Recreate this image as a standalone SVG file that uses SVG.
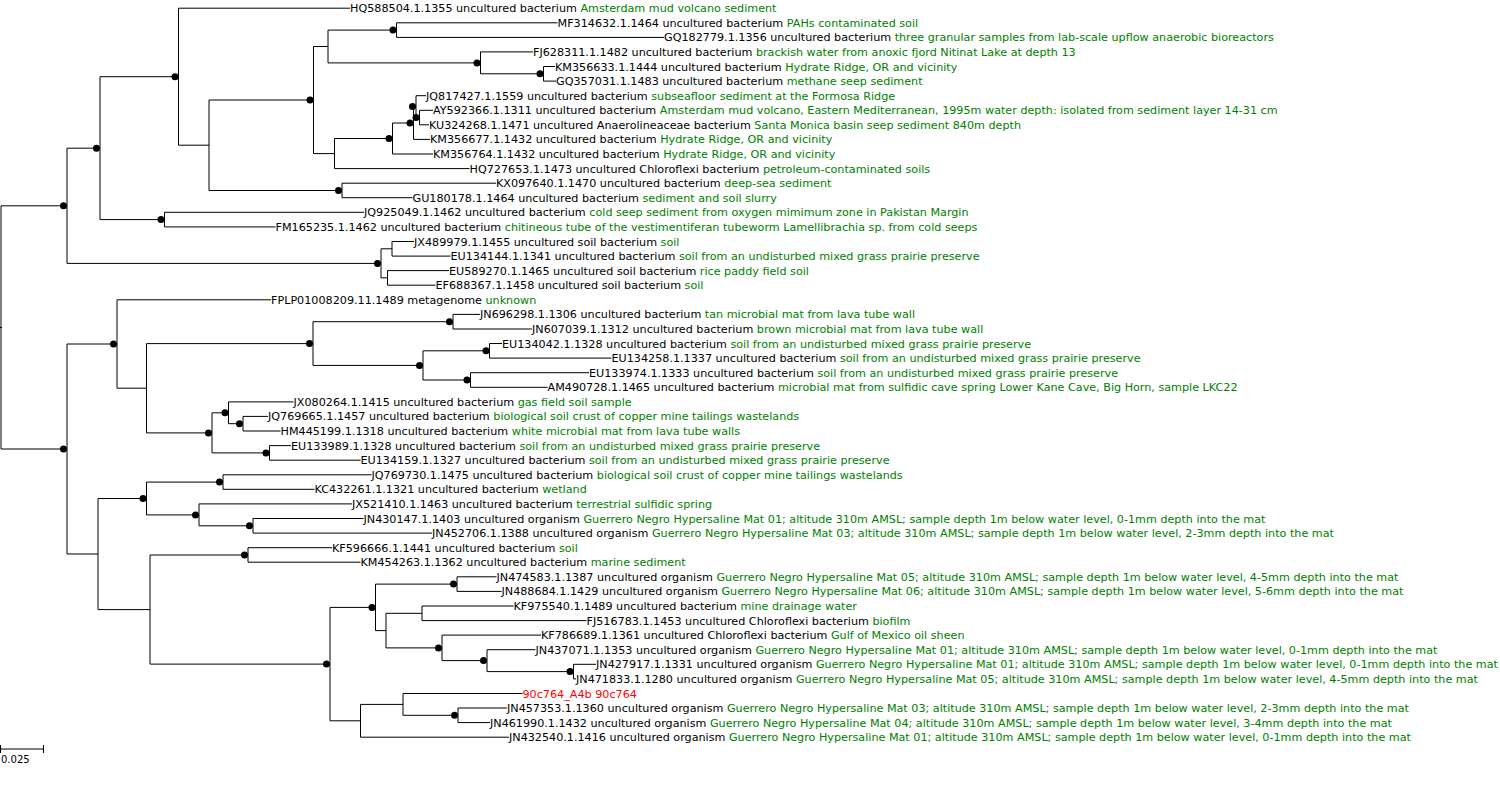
<svg xmlns="http://www.w3.org/2000/svg" width="1500" height="788" viewBox="0 0 1500 788">
<style>
.bg{fill:#fff}
.c{fill:none;stroke:#000;stroke-width:1}
.d{fill:#000}
text{font-family:"DejaVu Sans","Liberation Sans",sans-serif;font-size:11.18px;fill:#000}
.g{fill:#008000}
.r{fill:#ff0000}
.s{font-size:10px}
</style>
<rect class="bg" x="0" y="0" width="1500" height="788"/>
<g id="connectors">
<path class="c" d="M1 205.8V449M1 205.8H67M1 449H67M0 327.4H2
M67 148.2V263.4M67 148.2H100M67 263.4H381
M100 76.7V219.6M100 76.7H178.5M100 219.6H164.5
M178.5 8.2V145.2M178.5 8.2H350M178.5 145.2H209
M209 100V190.5M209 100H313.5M209 190.5H342
M313.5 46.5V153.6M313.5 46.5H328M313.5 153.6H334.5
M328 30.1V62.9M328 30.1H396.5M328 62.9H480.5
M396.5 22.8V37.4M396.5 22.8H557.5M396.5 37.4H664
M480.5 51.9V73.8M480.5 51.9H533M480.5 73.8H543.5
M543.5 66.5V81.1M543.5 66.5H555M543.5 81.1H556
M334.5 138.5V168.6M334.5 138.5H392.5M334.5 168.6H469.5
M392.5 123V154M392.5 123H413.5M392.5 154H433
M413.5 106.6V139.4M413.5 106.6H416M413.5 139.4H430
M416 95.7V117.6M416 95.7H426M416 117.6H419.5
M419.5 110.3V124.8M419.5 110.3H433M419.5 124.8H429
M342 183.2V197.7M342 183.2H496M342 197.7H412.5
M164.5 212.3V226.9M164.5 212.3H364M164.5 226.9H275.5
M381 248.8V277.9M381 248.8H392M381 277.9H387.5
M392 241.5V256.1M392 241.5H414M392 256.1H450.5
M387.5 270.6V285.2M387.5 270.6H449M387.5 285.2H435.5
M67 344V554M67 344H117M67 554H98
M117 299.8V388.2M117 299.8H271M117 388.2H146.5
M146.5 343.6V432.9M146.5 343.6H313M146.5 432.9H212
M313 321.7V365.4M313 321.7H453M313 365.4H423
M453 314.4V329M453 314.4H480M453 329H532
M423 350.8V380M423 350.8H489.5M423 380H470.5
M489.5 343.5V358.1M489.5 343.5H502M489.5 358.1H611.5
M470.5 372.7V387.3M470.5 372.7H589M470.5 387.3H547.5
M212 412.8V452.9M212 412.8H228.5M212 452.9H269.5
M228.5 401.9V423.7M228.5 401.9H293.5M228.5 423.7H243
M243 416.4V431M243 416.4H268M243 431H280.5
M269.5 445.6V460.2M269.5 445.6H291M269.5 460.2H360.5
M98 498.5V609.6M98 498.5H146.5M98 609.6H150
M146.5 482.1V514.9M146.5 482.1H223M146.5 514.9H199
M223 474.8V489.3M223 474.8H371.5M223 489.3H314.5
M199 503.9V525.8M199 503.9H352M199 525.8H253
M253 518.5V533.1M253 518.5H363.5M253 533.1H432
M150 555V664.1M150 555H248M150 664.1H330
M248 547.7V562.2M248 547.7H332M248 562.2H360.5
M330 607.4V720.8M330 607.4H375.5M330 720.8H360.5
M375.5 584.1V630.6M375.5 584.1H457M375.5 630.6H386
M457 576.8V591.4M457 576.8H496.5M457 591.4H501.5
M386 613.3V647.9M386 613.3H422M386 647.9H442
M422 606V620.6M422 606H513.5M422 620.6H586.5
M442 635.1V660.6M442 635.1H541M442 660.6H487
M487 649.7V671.6M487 649.7H535.5M487 671.6H573.5
M573.5 664.3V678.9M573.5 664.3H596M573.5 678.9H576
M360.5 704.4V737.2M360.5 704.4H403M360.5 737.2H509
M403 693.5V715.3M403 693.5H522.5M403 715.3H458
M458 708V722.6M458 708H507M458 722.6H490"/>
</g>
<g id="internal-nodes">
<g id="nA"><circle class="d" cx="63.5" cy="205.8" r="3.5"/></g>
<g id="nO"><circle class="d" cx="96.5" cy="148.2" r="3.5"/></g>
<g id="nB"><circle class="d" cx="175" cy="76.7" r="3.5"/></g>
<g id="nD"><circle class="d" cx="310" cy="100" r="3.5"/></g>
<g id="nG"><circle class="d" cx="393" cy="30.1" r="3.5"/></g>
<g id="nH"><circle class="d" cx="477" cy="62.9" r="3.5"/></g>
<g id="nI"><circle class="d" cx="540" cy="73.8" r="3.5"/></g>
<g id="nK"><circle class="d" cx="389" cy="138.5" r="3.5"/></g>
<g id="nL"><circle class="d" cx="410" cy="123" r="3.5"/></g>
<g id="nNN"><circle class="d" cx="412.5" cy="106.6" r="3.5"/></g>
<g id="nM"><circle class="d" cx="416" cy="117.6" r="3.5"/></g>
<g id="nE"><circle class="d" cx="338.5" cy="190.5" r="3.5"/></g>
<g id="nN"><circle class="d" cx="161" cy="219.6" r="3.5"/></g>
<g id="nP"><circle class="d" cx="377.5" cy="263.4" r="3.5"/></g>
<g id="nR"><circle class="d" cx="63.5" cy="449" r="3.5"/></g>
<g id="nS"><circle class="d" cx="113.5" cy="344" r="3.5"/></g>
<g id="nU"><circle class="d" cx="309.5" cy="343.6" r="3.5"/></g>
<g id="nV"><circle class="d" cx="449.5" cy="321.7" r="3.5"/></g>
<g id="nW"><circle class="d" cx="419.5" cy="365.4" r="3.5"/></g>
<g id="nX"><circle class="d" cx="486" cy="350.8" r="3.5"/></g>
<g id="nY"><circle class="d" cx="467" cy="380" r="3.5"/></g>
<g id="nZ"><circle class="d" cx="208.5" cy="432.9" r="3.5"/></g>
<g id="nAA"><circle class="d" cx="225" cy="412.8" r="3.5"/></g>
<g id="nAB"><circle class="d" cx="239.5" cy="423.7" r="3.5"/></g>
<g id="nAC"><circle class="d" cx="266" cy="452.9" r="3.5"/></g>
<g id="nAE"><circle class="d" cx="143" cy="498.5" r="3.5"/></g>
<g id="nAF"><circle class="d" cx="219.5" cy="482.1" r="3.5"/></g>
<g id="nAG"><circle class="d" cx="195.5" cy="514.9" r="3.5"/></g>
<g id="nAH"><circle class="d" cx="249.5" cy="525.8" r="3.5"/></g>
<g id="nAJ"><circle class="d" cx="244.5" cy="555" r="3.5"/></g>
<g id="nAK"><circle class="d" cx="326.5" cy="664.1" r="3.5"/></g>
<g id="nAL"><circle class="d" cx="372" cy="607.4" r="3.5"/></g>
<g id="nAM"><circle class="d" cx="453.5" cy="584.1" r="3.5"/></g>
<g id="nAP"><circle class="d" cx="438.5" cy="647.9" r="3.5"/></g>
<g id="nAT"><circle class="d" cx="483.5" cy="660.6" r="3.5"/></g>
<g id="nAU"><circle class="d" cx="570" cy="671.6" r="3.5"/></g>
<g id="nAS"><circle class="d" cx="454.5" cy="715.3" r="3.5"/></g>
</g>
<g id="leaves">
<g id="l1"><text x="350" y="12.2">HQ588504.1.1355 uncultured bacterium <tspan class="g">Amsterdam mud volcano sediment</tspan></text></g>
<g id="l2"><text x="557.5" y="26.8">MF314632.1.1464 uncultured bacterium <tspan class="g">PAHs contaminated soil</tspan></text></g>
<g id="l3"><text x="664" y="41.4">GQ182779.1.1356 uncultured bacterium <tspan class="g">three granular samples from lab-scale upflow anaerobic bioreactors</tspan></text></g>
<g id="l4"><text x="533" y="55.9">FJ628311.1.1482 uncultured bacterium <tspan class="g">brackish water from anoxic fjord Nitinat Lake at depth 13</tspan></text></g>
<g id="l5"><text x="555" y="70.5">KM356633.1.1444 uncultured bacterium <tspan class="g">Hydrate Ridge, OR and vicinity</tspan></text></g>
<g id="l6"><text x="556" y="85.1">GQ357031.1.1483 uncultured bacterium <tspan class="g">methane seep sediment</tspan></text></g>
<g id="l7"><text x="426" y="99.7">JQ817427.1.1559 uncultured bacterium <tspan class="g">subseafloor sediment at the Formosa Ridge</tspan></text></g>
<g id="l8"><text x="433" y="114.3">AY592366.1.1311 uncultured bacterium <tspan class="g">Amsterdam mud volcano, Eastern Mediterranean, 1995m water depth: isolated from sediment layer 14-31 cm</tspan></text></g>
<g id="l9"><text x="429" y="128.8">KU324268.1.1471 uncultured Anaerolineaceae bacterium <tspan class="g">Santa Monica basin seep sediment 840m depth</tspan></text></g>
<g id="l10"><text x="430" y="143.4">KM356677.1.1432 uncultured bacterium <tspan class="g">Hydrate Ridge, OR and vicinity</tspan></text></g>
<g id="l11"><text x="433" y="158">KM356764.1.1432 uncultured bacterium <tspan class="g">Hydrate Ridge, OR and vicinity</tspan></text></g>
<g id="l12"><text x="469.5" y="172.6">HQ727653.1.1473 uncultured Chloroflexi bacterium <tspan class="g">petroleum-contaminated soils</tspan></text></g>
<g id="l13"><text x="496" y="187.2">KX097640.1.1470 uncultured bacterium <tspan class="g">deep-sea sediment</tspan></text></g>
<g id="l14"><text x="412.5" y="201.7">GU180178.1.1464 uncultured bacterium <tspan class="g">sediment and soil slurry</tspan></text></g>
<g id="l15"><text x="364" y="216.3">JQ925049.1.1462 uncultured bacterium <tspan class="g">cold seep sediment from oxygen mimimum zone in Pakistan Margin</tspan></text></g>
<g id="l16"><text x="275.5" y="230.9">FM165235.1.1462 uncultured bacterium <tspan class="g">chitineous tube of the vestimentiferan tubeworm Lamellibrachia sp. from cold seeps</tspan></text></g>
<g id="l17"><text x="414" y="245.5">JX489979.1.1455 uncultured soil bacterium <tspan class="g">soil</tspan></text></g>
<g id="l18"><text x="450.5" y="260.1">EU134144.1.1341 uncultured bacterium <tspan class="g">soil from an undisturbed mixed grass prairie preserve</tspan></text></g>
<g id="l19"><text x="449" y="274.6">EU589270.1.1465 uncultured soil bacterium <tspan class="g">rice paddy field soil</tspan></text></g>
<g id="l20"><text x="435.5" y="289.2">EF688367.1.1458 uncultured soil bacterium <tspan class="g">soil</tspan></text></g>
<g id="l21"><text x="271" y="303.8">FPLP01008209.11.1489 metagenome <tspan class="g">unknown</tspan></text></g>
<g id="l22"><text x="480" y="318.4">JN696298.1.1306 uncultured bacterium <tspan class="g">tan microbial mat from lava tube wall</tspan></text></g>
<g id="l23"><text x="532" y="333">JN607039.1.1312 uncultured bacterium <tspan class="g">brown microbial mat from lava tube wall</tspan></text></g>
<g id="l24"><text x="502" y="347.5">EU134042.1.1328 uncultured bacterium <tspan class="g">soil from an undisturbed mixed grass prairie preserve</tspan></text></g>
<g id="l25"><text x="611.5" y="362.1">EU134258.1.1337 uncultured bacterium <tspan class="g">soil from an undisturbed mixed grass prairie preserve</tspan></text></g>
<g id="l26"><text x="589" y="376.7">EU133974.1.1333 uncultured bacterium <tspan class="g">soil from an undisturbed mixed grass prairie preserve</tspan></text></g>
<g id="l27"><text x="547.5" y="391.3">AM490728.1.1465 uncultured bacterium <tspan class="g">microbial mat from sulfidic cave spring Lower Kane Cave, Big Horn, sample LKC22</tspan></text></g>
<g id="l28"><text x="293.5" y="405.9">JX080264.1.1415 uncultured bacterium <tspan class="g">gas field soil sample</tspan></text></g>
<g id="l29"><text x="268" y="420.4">JQ769665.1.1457 uncultured bacterium <tspan class="g">biological soil crust of copper mine tailings wastelands</tspan></text></g>
<g id="l30"><text x="280.5" y="435">HM445199.1.1318 uncultured bacterium <tspan class="g">white microbial mat from lava tube walls</tspan></text></g>
<g id="l31"><text x="291" y="449.6">EU133989.1.1328 uncultured bacterium <tspan class="g">soil from an undisturbed mixed grass prairie preserve</tspan></text></g>
<g id="l32"><text x="360.5" y="464.2">EU134159.1.1327 uncultured bacterium <tspan class="g">soil from an undisturbed mixed grass prairie preserve</tspan></text></g>
<g id="l33"><text x="371.5" y="478.8">JQ769730.1.1475 uncultured bacterium <tspan class="g">biological soil crust of copper mine tailings wastelands</tspan></text></g>
<g id="l34"><text x="314.5" y="493.3">KC432261.1.1321 uncultured bacterium <tspan class="g">wetland</tspan></text></g>
<g id="l35"><text x="352" y="507.9">JX521410.1.1463 uncultured bacterium <tspan class="g">terrestrial sulfidic spring</tspan></text></g>
<g id="l36"><text x="363.5" y="522.5">JN430147.1.1403 uncultured organism <tspan class="g">Guerrero Negro Hypersaline Mat 01; altitude 310m AMSL; sample depth 1m below water level, 0-1mm depth into the mat</tspan></text></g>
<g id="l37"><text x="432" y="537.1">JN452706.1.1388 uncultured organism <tspan class="g">Guerrero Negro Hypersaline Mat 03; altitude 310m AMSL; sample depth 1m below water level, 2-3mm depth into the mat</tspan></text></g>
<g id="l38"><text x="332" y="551.7">KF596666.1.1441 uncultured bacterium <tspan class="g">soil</tspan></text></g>
<g id="l39"><text x="360.5" y="566.2">KM454263.1.1362 uncultured bacterium <tspan class="g">marine sediment</tspan></text></g>
<g id="l40"><text x="496.5" y="580.8">JN474583.1.1387 uncultured organism <tspan class="g">Guerrero Negro Hypersaline Mat 05; altitude 310m AMSL; sample depth 1m below water level, 4-5mm depth into the mat</tspan></text></g>
<g id="l41"><text x="501.5" y="595.4">JN488684.1.1429 uncultured organism <tspan class="g">Guerrero Negro Hypersaline Mat 06; altitude 310m AMSL; sample depth 1m below water level, 5-6mm depth into the mat</tspan></text></g>
<g id="l42"><text x="513.5" y="610">KF975540.1.1489 uncultured bacterium <tspan class="g">mine drainage water</tspan></text></g>
<g id="l43"><text x="586.5" y="624.6">FJ516783.1.1453 uncultured Chloroflexi bacterium <tspan class="g">biofilm</tspan></text></g>
<g id="l44"><text x="541" y="639.1">KF786689.1.1361 uncultured Chloroflexi bacterium <tspan class="g">Gulf of Mexico oil sheen</tspan></text></g>
<g id="l45"><text x="535.5" y="653.7">JN437071.1.1353 uncultured organism <tspan class="g">Guerrero Negro Hypersaline Mat 01; altitude 310m AMSL; sample depth 1m below water level, 0-1mm depth into the mat</tspan></text></g>
<g id="l46"><text x="596" y="668.3">JN427917.1.1331 uncultured organism <tspan class="g">Guerrero Negro Hypersaline Mat 01; altitude 310m AMSL; sample depth 1m below water level, 0-1mm depth into the mat</tspan></text></g>
<g id="l47"><text x="576" y="682.9">JN471833.1.1280 uncultured organism <tspan class="g">Guerrero Negro Hypersaline Mat 05; altitude 310m AMSL; sample depth 1m below water level, 4-5mm depth into the mat</tspan></text></g>
<g id="l48"><text class="r" x="522.5" y="697.5">90c764_A4b 90c764</text></g>
<g id="l49"><text x="507" y="712">JN457353.1.1360 uncultured organism <tspan class="g">Guerrero Negro Hypersaline Mat 03; altitude 310m AMSL; sample depth 1m below water level, 2-3mm depth into the mat</tspan></text></g>
<g id="l50"><text x="490" y="726.6">JN461990.1.1432 uncultured organism <tspan class="g">Guerrero Negro Hypersaline Mat 04; altitude 310m AMSL; sample depth 1m below water level, 3-4mm depth into the mat</tspan></text></g>
<g id="l51"><text x="509" y="741.2">JN432540.1.1416 uncultured organism <tspan class="g">Guerrero Negro Hypersaline Mat 01; altitude 310m AMSL; sample depth 1m below water level, 0-1mm depth into the mat</tspan></text></g>
</g>
<g id="scale">
<path class="c" d="M0.5 745V753M0.5 749H43.5M43.5 745V753"/>
<text class="s" x="1" y="763">0.025</text>
</g>
</svg>
